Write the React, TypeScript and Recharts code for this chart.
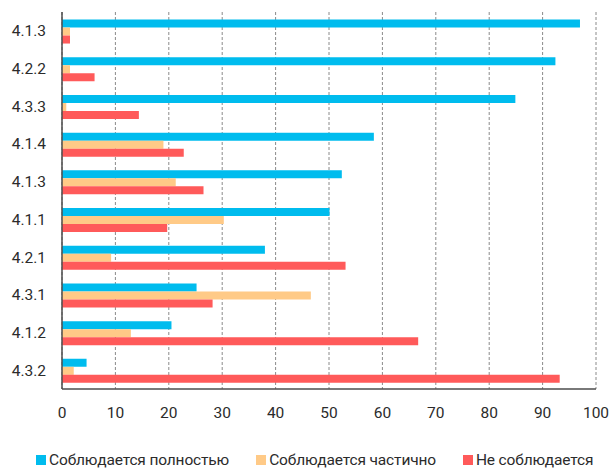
import React from "react";
import {
  BarChart,
  Bar,
  XAxis,
  YAxis,
  CartesianGrid,
  Legend,
} from "recharts";

// Criteria codes, top to bottom
const criteria = ["4.1.3", "4.2.2", "4.3.3", "4.1.4", "4.1.3", "4.1.1", "4.2.1", "4.3.1", "4.1.2", "4.3.2"];

// Share of organisations, %
const fullyMet = [97.0, 92.4, 84.9, 58.4, 52.4, 50.1, 38.0, 25.2, 20.5, 4.6];
const partlyMet = [1.5, 1.5, 0.8, 19.0, 21.3, 30.3, 9.2, 46.6, 12.9, 2.2];
const notMet = [1.5, 6.1, 14.4, 22.8, 26.5, 19.7, 53.1, 28.2, 66.7, 93.2];

const xTicks = [0, 10, 20, 30, 40, 50, 60, 70, 80, 90, 100];

const seriesNames = ["Соблюдается полностью", "Соблюдается частично", "Не соблюдается"];
const seriesColors = ["#00BCEE", "#FFCA87", "#FF5A5A"];

const rows = criteria.map((code, i) => ({
  code,
  full: fullyMet[i],
  partial: partlyMet[i],
  none: notMet[i],
}));

const FONT = "Roboto, 'Open Sans', sans-serif";
const AXIS = "#4d4d4d";
const TEXT = "#2b2b2b";

function LegendRow() {
  return (
    <div
      style={{
        display: "flex",
        width: 609,
        height: 28,
        boxSizing: "border-box",
        paddingTop: 10,
        paddingLeft: 36,
        fontFamily: FONT,
        fontSize: 15.5,
        letterSpacing: -0.15,
        lineHeight: "18px",
        color: TEXT,
        whiteSpace: "nowrap",
      }}
    >
      {seriesNames.map((name, i) => (
        <div key={name} style={{ display: "flex", alignItems: "center", flexShrink: 0, marginRight: 27 }}>
          <span
            style={{
              display: "inline-block",
              width: 10,
              height: 10,
              background: seriesColors[i],
              marginRight: 3,
            }}
          />
          <span>{name}</span>
        </div>
      ))}
    </div>
  );
}

export default function App() {
  return (
    <div style={{ position: "absolute", left: 0, top: 0, background: "#fff" }}>
      <BarChart
        width={609}
        height={469}
        data={rows}
        layout="vertical"
        margin={{ top: 12, right: 13, left: 0, bottom: 0 }}
        barCategoryGap="20%"
        barGap={0}
      >
        <CartesianGrid horizontal={false} stroke="#8a8a8a" strokeDasharray="3 2" />
        <XAxis
          type="number"
          domain={[0, 100]}
          ticks={xTicks}
          interval={0}
          height={52}
          tickLine={false}
          tickSize={0}
          tickMargin={18}
          axisLine={{ stroke: AXIS, strokeWidth: 1.5 }}
          tick={{ fontSize: 15.5, fill: TEXT, fontFamily: FONT }}
        />
        <YAxis
          type="category"
          dataKey="code"
          width={62}
          tickLine={false}
          tickSize={0}
          tickMargin={16}
          axisLine={{ stroke: AXIS, strokeWidth: 1.5 }}
          tick={{ fontSize: 15.5, fill: TEXT, fontFamily: FONT }}
        />
        <Legend
          verticalAlign="bottom"
          content={() => <LegendRow />}
          wrapperStyle={{ left: 0, bottom: 0, width: 609 }}
        />
        <Bar dataKey="full" name={seriesNames[0]} fill={seriesColors[0]} isAnimationActive={false} />
        <Bar dataKey="partial" name={seriesNames[1]} fill={seriesColors[1]} isAnimationActive={false} />
        <Bar dataKey="none" name={seriesNames[2]} fill={seriesColors[2]} isAnimationActive={false} />
      </BarChart>
    </div>
  );
}
